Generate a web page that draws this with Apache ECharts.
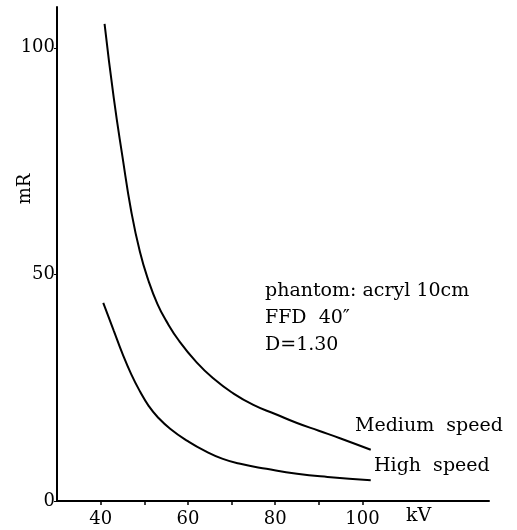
<!DOCTYPE html>
<html>
<head>
<meta charset="utf-8">
<script src="https://cdn.jsdelivr.net/npm/echarts@6/dist/echarts.min.js"></script>
<style>html,body{margin:0;padding:0;background:#fff;}#c{width:517px;height:530px;}</style>
</head>
<body>
<div id="c"></div>
<script>
// kV values and mR values
const mediumKV = [40.9, 43, 45, 47, 49, 51, 53, 55, 58, 62, 66, 70, 75, 80, 85, 90, 95, 101.9];
const mediumMR = [105.3, 89, 76, 64, 55, 48.5, 43.5, 39.8, 35.3, 30.6, 26.9, 24.0, 21.2, 19.2, 17.2, 15.5, 13.8, 11.3];
const highKV = [40.6, 43, 45, 47, 49, 51, 53, 56, 60, 64, 68, 72, 78, 85, 92, 101.9];
const highMR = [43.7, 37.6, 32.5, 28.0, 24.2, 21.0, 18.6, 15.9, 13.2, 11.0, 9.3, 8.2, 7.1, 6.0, 5.3, 4.6];
const xTicks = [40, 50, 60, 70, 80, 90, 100];
const xLabels = [40, 60, 80, 100];
const yTicks = [0, 50, 100];
const yLabels = [0, 50, 100];
const seriesNames = ['Medium speed', 'High speed'];
const noteLines = ['phantom: acryl 10cm', 'FFD  40\u2033', 'D=1.30'];
const xName = 'kV';
const yName = 'mR';

const FONT = '"DejaVu Serif", "Liberation Serif", serif';
const chart = echarts.init(document.getElementById('c'), null, {renderer: 'canvas'});
const zip = (a, b) => a.map((v, i) => [v, b[i]]);
const lineStyle = {color: '#000', width: 2};

chart.setOption({
  animation: false,
  backgroundColor: '#fff',
  grid: {left: 57, right: 28, top: 7, bottom: 29, containLabel: false},
  xAxis: {
    type: 'value', min: 30, max: 129,
    axisLine: {show: true, lineStyle: {color: '#000', width: 2}},
    axisTick: {show: true, customValues: xTicks, length: 4, inside: false, lineStyle: {color: '#000', width: 1.5}},
    axisLabel: {customValues: xLabels, color: '#000', fontFamily: FONT, fontSize: 18, margin: 9},
    splitLine: {show: false}
  },
  yAxis: {
    type: 'value', min: 0, max: 109,
    axisLine: {show: true, lineStyle: {color: '#000', width: 2}},
    axisTick: {show: true, customValues: yTicks, length: 3, lineStyle: {color: '#000', width: 1}},
    axisLabel: {customValues: yLabels, color: '#000', fontFamily: FONT, fontSize: 18, margin: 2},
    splitLine: {show: false}
  },
  series: [
    {name: seriesNames[0], type: 'line', data: zip(mediumKV, mediumMR), showSymbol: false, smooth: 0.5, lineStyle: lineStyle},
    {name: seriesNames[1], type: 'line', data: zip(highKV, highMR), showSymbol: false, smooth: 0.5, lineStyle: lineStyle}
  ],
  graphic: [
    {type: 'text', left: 265, top: 282, style: {text: noteLines[0], font: '19px ' + FONT, fill: '#000'}},
    {type: 'text', left: 265, top: 309, style: {text: noteLines[1], font: '19px ' + FONT, fill: '#000'}},
    {type: 'text', left: 265, top: 336, style: {text: noteLines[2], font: '19px ' + FONT, fill: '#000'}},
    {type: 'text', left: 355, top: 417, style: {text: seriesNames[0].replace(' ', '  '), font: '19px ' + FONT, fill: '#000'}},
    {type: 'text', left: 374, top: 457, style: {text: seriesNames[1].replace(' ', '  '), font: '19px ' + FONT, fill: '#000'}},
    {type: 'text', left: 406, top: 507, style: {text: xName, font: '19px ' + FONT, fill: '#000'}},
    {type: 'text', x: 25, y: 189, rotation: Math.PI / 2, style: {text: yName, font: '18px ' + FONT, fill: '#000', align: 'center', verticalAlign: 'middle'}}
  ]
});
</script>
</body>
</html>
